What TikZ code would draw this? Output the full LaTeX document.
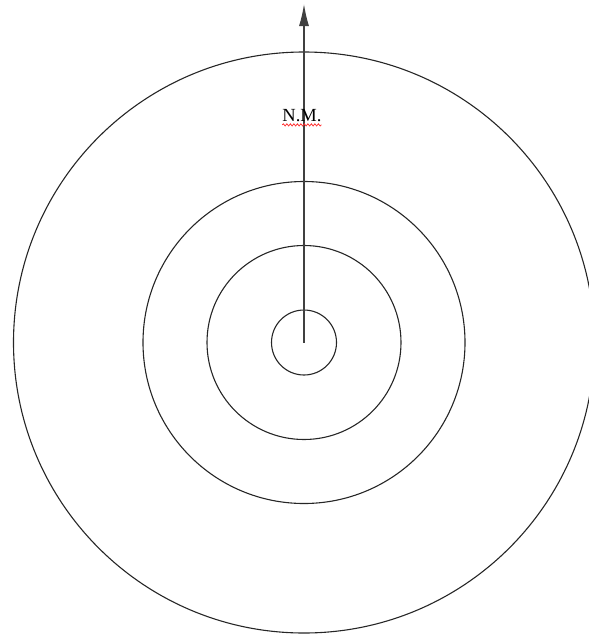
\documentclass[tikz,border=0pt]{standalone}
\usepackage{fontspec}
\setmainfont{Liberation Serif}
\usetikzlibrary{arrows.meta,decorations.pathmorphing}
\begin{document}
\begin{tikzpicture}[x=1pt, y=-1pt,
  ring/.style={line width=1.1pt, black!85},
  axis/.style={line width=1.3pt, black!75, -{Latex[length=22pt,width=10pt]}},
  squiggle/.style={red!85, line width=0.7pt, decorate,
    decoration={snake, amplitude=1.1pt, segment length=3.5pt}}]
\useasboundingbox (0,0) rectangle (589,635);
\coordinate (ctr) at (304,342.5);
\coordinate (tip) at (304,4);
% rings
\foreach \r in {32.5,97,161,290.5} \draw[ring] (ctr) circle [radius=\r pt];
% north arrow
\draw[axis] (ctr) -- (tip);
\node[font=\fontsize{18.5}{20}\selectfont, inner sep=0pt] (nm) at (302,116) {N.M.};
\draw[squiggle] ([yshift=-2.5pt]nm.south west) -- ([yshift=-2.5pt]nm.south east);
\end{tikzpicture}
\end{document}
